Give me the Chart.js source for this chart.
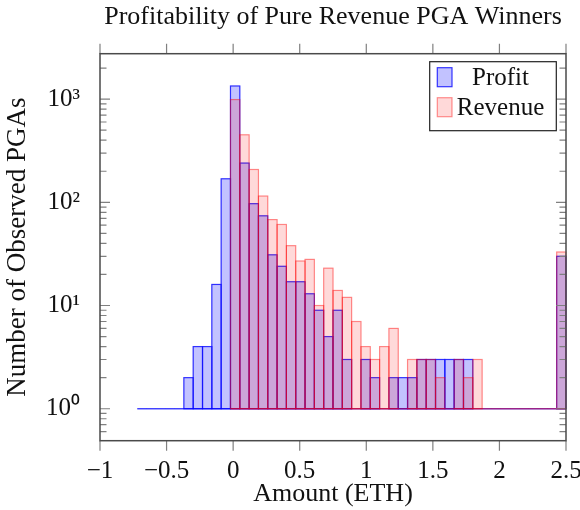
<!DOCTYPE html>
<html>
  <head>
    <title>Profitability of Pure Revenue PGA Winners</title>
    <script src="https://cdn.jsdelivr.net/npm/chart.js/dist/chart.umd.min.js"></script>
    <style>
      body { margin: 0; background: #fff; }
    </style>
  </head>
  <body>
    <div style="width:580px; height:510px;">
      <canvas id="pgaChart"></canvas>
    </div>
    <script>
      // 46 bins, 0.07 ETH wide, from -0.72 to 2.5 (centres)
      const binCenters = [-0.685, -0.615, -0.545, -0.475, -0.405, -0.335, -0.265, -0.195, -0.125, -0.055,
        0.015, 0.085, 0.155, 0.225, 0.295, 0.365, 0.435, 0.505, 0.575, 0.645,
        0.715, 0.785, 0.855, 0.925, 0.995, 1.065, 1.135, 1.205, 1.275, 1.345,
        1.415, 1.485, 1.555, 1.625, 1.695, 1.765, 1.835, 1.905, 1.975, 2.045,
        2.115, 2.185, 2.255, 2.325, 2.395, 2.465];
      const profitCounts = [1, 1, 1, 1, 1, 2, 4, 4, 16, 169,
        1340, 240, 97, 74, 31, 24, 17, 17, 13, 9,
        5, 9, 3, 1, 3, 2, 1, 2, 2, 2,
        3, 3, 3, 3, 3, 3, 1, 1, 1, 1,
        1, 1, 1, 1, 1, 30];
      const revenueCounts = [null, null, null, null, null, null, null, null, null, null,
        990, 451, 208, 115, 68, 61, 38, 27, 28, 10,
        23, 14, 12, 7, 4, 3, 4, 6, 1, 3,
        3, 3, 2, 1, 3, 2, 3, 1, 1, 1,
        1, 1, 1, 1, 1, 33];
      // the flat line pgfplots leaves at 10^0 under each histogram
      const profitBaseX = [-0.72, 2.5];
      const revenueBaseX = [-0.02, 2.5];
      const baseCount = 1;
      const xTicks = [-1, -0.5, 0, 0.5, 1, 1.5, 2, 2.5];

      const FONT = "'Liberation Serif', 'Times New Roman', serif";
      const blueFill = 'rgba(0, 0, 255, 0.24)';
      const blueLine = 'rgba(20, 20, 255, 0.85)';
      const redFill = 'rgba(255, 0, 0, 0.15)';
      const redLine = 'rgba(255, 0, 0, 0.42)';

      function toPoints(xs, ys) {
        return xs.map((x, i) => ({x: x, y: ys[i]})).filter(p => p.y !== null);
      }

      const supDigits = {'0': '⁰', '1': '¹', '2': '²', '3': '³', '4': '⁴'};

      // chart.js fills translucent borders under the whole bar, so outline them here instead
      const barOutline = {
        id: 'barOutline',
        afterDatasetDraw(chart, args) {
          const ds = chart.data.datasets[args.index];
          if (ds.type === 'line' || !ds.outlineColor) return;
          const ctx = chart.ctx;
          ctx.save();
          ctx.strokeStyle = ds.outlineColor;
          ctx.lineWidth = 1.2;
          args.meta.data.forEach(bar => {
            const p = bar.getProps(['x', 'y', 'base', 'width'], true);
            if (Math.abs(p.base - p.y) < 0.5) return;
            ctx.strokeRect(p.x - p.width / 2, p.y, p.width, p.base - p.y);
          });
          ctx.restore();
        }
      };

      // box, inward y ticks, outward x ticks (pgfplots look) and the title over the plot
      const axisFrame = {
        id: 'axisFrame',
        afterDatasetsDraw(chart) {
          const ctx = chart.ctx;
          const a = chart.chartArea;
          const xs = chart.scales.x;
          const ys = chart.scales.y;
          ctx.save();
          ctx.strokeStyle = '#808080';
          ctx.lineWidth = 1.2;
          ctx.beginPath();
          xTicks.forEach(v => {
            const px = xs.getPixelForValue(v);
            ctx.moveTo(px, a.top); ctx.lineTo(px, a.top - 10);
            ctx.moveTo(px, a.bottom); ctx.lineTo(px, a.bottom + 10);
          });
          ys.ticks.forEach(t => {
            const v = t.value;
            const e = Math.floor(Math.log10(v) + 1e-9);
            const m = v / Math.pow(10, e);
            if (Math.abs(m - Math.round(m)) > 1e-6) return;
            const len = Math.round(m) === 1 ? 10 : 6.5;
            const py = ys.getPixelForValue(v);
            if (py > a.bottom + 0.5 || py < a.top - 0.5) return;
            ctx.moveTo(a.left, py); ctx.lineTo(a.left + len, py);
            ctx.moveTo(a.right, py); ctx.lineTo(a.right - len, py);
          });
          ctx.stroke();
          ctx.strokeStyle = '#4a4a4a';
          ctx.lineWidth = 1.5;
          ctx.strokeRect(a.left, a.top, a.right - a.left, a.bottom - a.top);

          ctx.fillStyle = '#111';
          ctx.font = '26px ' + FONT;
          ctx.textAlign = 'center';
          ctx.textBaseline = 'middle';
          ctx.fillText('Profitability of Pure Revenue PGA Winners', (a.left + a.right) / 2, 17);
          ctx.restore();
        }
      };

      const legendBox = {
        id: 'legendBox',
        afterDraw(chart) {
          const ctx = chart.ctx;
          const a = chart.chartArea;
          const w = 126.6, h = 69;
          const left = a.right - 9.7 - w;
          const top = a.top + 8;
          ctx.save();
          ctx.fillStyle = '#fff';
          ctx.fillRect(left, top, w, h);
          ctx.strokeStyle = '#222';
          ctx.lineWidth = 1.2;
          ctx.strokeRect(left, top, w, h);
          const items = [
            {label: 'Profit', fill: blueFill, line: blueLine},
            {label: 'Revenue', fill: redFill, line: redLine}
          ];
          ctx.font = '25px ' + FONT;
          ctx.textAlign = 'center';
          ctx.textBaseline = 'middle';
          items.forEach((it, i) => {
            const cy = top + 15.5 + i * 30;
            ctx.fillStyle = it.fill;
            ctx.fillRect(left + 7.6, cy - 9.5, 14.7, 19);
            ctx.strokeStyle = it.line;
            ctx.lineWidth = 1.2;
            ctx.strokeRect(left + 7.6, cy - 9.5, 14.7, 19);
            ctx.fillStyle = '#111';
            ctx.fillText(it.label, left + 70.8, cy + 1);
          });
          ctx.restore();
        }
      };

      const chart = new Chart(document.getElementById('pgaChart'), {
        type: 'bar',
        data: {
          datasets: [
            {
              label: 'Profit',
              data: toPoints(binCenters, profitCounts),
              base: baseCount,
              backgroundColor: blueFill,
              borderWidth: 0,
              outlineColor: blueLine,
              barPercentage: 1,
              categoryPercentage: 1,
              grouped: false,
              order: 4
            },
            {
              label: 'Revenue',
              data: toPoints(binCenters, revenueCounts),
              base: baseCount,
              backgroundColor: redFill,
              borderWidth: 0,
              outlineColor: redLine,
              barPercentage: 1,
              categoryPercentage: 1,
              grouped: false,
              order: 2
            },
            {
              type: 'line',
              label: 'profit base',
              data: profitBaseX.map(x => ({x: x, y: baseCount})),
              borderColor: 'rgba(0, 0, 255, 0.7)',
              borderWidth: 1.3,
              pointRadius: 0,
              order: 3
            },
            {
              type: 'line',
              label: 'revenue base',
              data: revenueBaseX.map(x => ({x: x, y: baseCount})),
              borderColor: 'rgba(255, 0, 0, 0.42)',
              borderWidth: 1.3,
              pointRadius: 0,
              order: 1
            }
          ]
        },
        options: {
          responsive: true,
          maintainAspectRatio: false,
          animation: false,
          layout: { padding: { left: 0, right: 14, top: 53.7, bottom: 0 } },
          plugins: {
            legend: { display: false },
            tooltip: { enabled: false },
            title: { display: false }
          },
          scales: {
            x: {
              type: 'linear',
              min: -1,
              max: 2.5,
              offset: false,
              grid: { display: false },
              border: { display: false },
              afterBuildTicks: scale => { scale.ticks = xTicks.map(v => ({value: v})); },
              afterFit: scale => { scale.height = 69.3; scale.paddingLeft = 0; scale.paddingRight = 0; },
              ticks: {
                color: '#111',
                padding: 8,
                maxRotation: 0,
                autoSkip: false,
                font: { family: FONT, size: 25 },
                callback: v => String(v).replace('-', '\u2212')
              },
              title: {
                display: true,
                text: 'Amount (ETH)',
                color: '#111',
                font: { family: FONT, size: 26 },
                padding: { top: 0, bottom: 0 }
              }
            },
            y: {
              type: 'logarithmic',
              min: 0.49,
              max: 2754,
              grid: { display: false },
              border: { display: false },
              afterFit: scale => { scale.width = 100; },
              ticks: {
                color: '#111',
                padding: 12,
                autoSkip: false,
                font: { family: FONT, size: 25 },
                callback: v => {
                  const e = Math.log10(v);
                  if (Math.abs(e - Math.round(e)) > 1e-9) return '';
                  return '10' + supDigits[String(Math.round(e))];
                }
              },
              title: {
                display: true,
                text: 'Number of Observed PGAs',
                color: '#111',
                font: { family: FONT, size: 27 },
                padding: { top: 2, bottom: 0 }
              }
            }
          }
        },
        plugins: [barOutline, axisFrame, legendBox]
      });
    </script>
  </body>
</html>
